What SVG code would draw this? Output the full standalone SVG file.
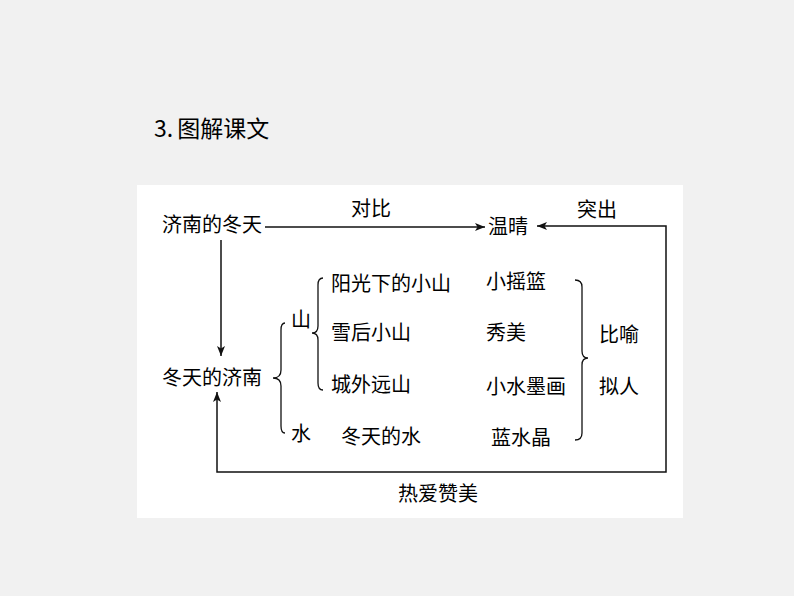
<svg xmlns="http://www.w3.org/2000/svg" width="794" height="596" viewBox="0 0 794 596">
<style>
text{font-family:"Noto Sans CJK SC","Noto Sans",sans-serif;font-size:20px;fill:#000}
.ln{fill:none;stroke:#111;stroke-width:1.5}
.br{fill:none;stroke:#111;stroke-width:1.3}
</style>
<defs>
<marker id="ah" viewBox="0 0 10 8" refX="10" refY="4" markerWidth="10" markerHeight="8" markerUnits="userSpaceOnUse" orient="auto-start-reverse">
<path d="M0,0 L10,4 L0,8 L2.5,4 Z" fill="#111"/>
</marker>
</defs>
<rect x="0" y="0" width="794" height="596" fill="#f1f1f1"/>
<rect x="137" y="185" width="546" height="333" fill="#ffffff"/>
<text x="154" y="137" style="font-size:23px">3.<tspan dx="4">图解课文</tspan></text>
<g id="connectors">
<path class="ln" d="M265,227 L485,227" marker-end="url(#ah)"/>
<path class="ln" d="M221,240 L221,356" marker-end="url(#ah)"/>
<path class="ln" d="M217,392 L217,472 L666,472 L666,226 L537,226" marker-start="url(#ah)" marker-end="url(#ah)"/>
<text x="371" y="216" text-anchor="middle">对比</text>
<text x="597" y="217" text-anchor="middle">突出</text>
<text x="438" y="501" text-anchor="middle">热爱赞美</text>
</g>
<g id="n-jinan-winter"><text x="162" y="232">济南的冬天</text></g>
<g id="n-wenqing"><text x="488" y="234">温晴</text></g>
<g id="n-winter-jinan"><text x="162" y="385">冬天的济南</text></g>
<g id="n-brace-main"><path class="br" d="M285,323 Q281,323 281,330 L281,370 Q281,378 273,378 Q281,378 281,386 L281,426 Q281,433 285,433"/></g>
<g id="n-shan"><text x="291" y="327">山</text></g>
<g id="n-shui"><text x="291" y="441">水</text></g>
<g id="n-brace-shan"><path class="br" d="M323,278 Q318,278 318,285 L318,326 Q318,333 312,333 Q318,333 318,340 L318,383 Q318,390 323,390"/></g>
<g id="n-sun-hill"><text x="331" y="291">阳光下的小山</text></g>
<g id="n-snow-hill"><text x="331" y="340">雪后小山</text></g>
<g id="n-far-hill"><text x="331" y="392">城外远山</text></g>
<g id="n-winter-water"><text x="341" y="444">冬天的水</text></g>
<g id="n-cradle"><text x="486" y="289">小摇篮</text></g>
<g id="n-beauty"><text x="486" y="340">秀美</text></g>
<g id="n-ink"><text x="486" y="394">小水墨画</text></g>
<g id="n-crystal"><text x="491" y="445">蓝水晶</text></g>
<g id="n-brace-right"><path class="br" d="M575,280 Q582,280 582,287 L582,351 Q582,358 588,358 Q582,358 582,365 L582,433 Q582,440 575,440"/></g>
<g id="n-metaphor"><text x="599" y="342">比喻</text></g>
<g id="n-personify"><text x="599" y="394">拟人</text></g>
</svg>
